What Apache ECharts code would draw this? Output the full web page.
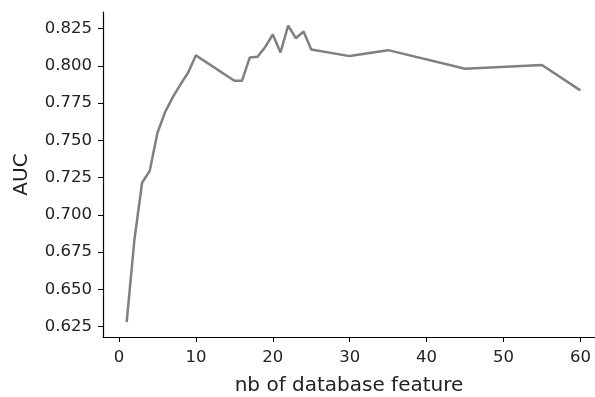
<!DOCTYPE html>
<html>
<head>
<meta charset="utf-8">
<script src="https://cdn.jsdelivr.net/npm/echarts@6/dist/echarts.min.js"></script>
<style>
  html, body { margin: 0; padding: 0; background: #fff; }
  #chart { width: 595px; height: 397px; }
</style>
</head>
<body>
<div id="chart"></div>
<script>
// nb of database feature
const featureCounts = [1, 2, 3, 4, 5, 6, 7, 8, 9, 10, 15, 16, 17, 18, 19, 20, 21, 22, 23, 24, 25, 30, 35, 45, 55, 60]
// AUC
const aucValues = [0.628, 0.683, 0.7215, 0.7295, 0.755, 0.769, 0.779, 0.7875, 0.7955, 0.807,
  0.790, 0.790, 0.8055, 0.806, 0.8125, 0.821, 0.809, 0.827, 0.8185, 0.823, 0.811,
  0.8065, 0.8105, 0.798, 0.8005, 0.7835]
const xTicks = [0, 10, 20, 30, 40, 50, 60]
const yTicks = [0.625, 0.650, 0.675, 0.700, 0.725, 0.750, 0.775, 0.800, 0.825]

const chart = echarts.init(document.getElementById('chart'), null, { renderer: 'canvas' })
const font = 'DejaVu Sans'
const axisLine = { show: true, onZero: false, lineStyle: { color: '#000', width: 1.2 } }

chart.setOption({
  animation: false,
  grid: { left: 103, top: 12, right: 0, bottom: 60, containLabel: false, outerBoundsMode: 'none' },
  xAxis: {
    type: 'value',
    min: -2.08,
    max: 61.9,
    name: 'nb of database feature',
    nameLocation: 'middle',
    nameGap: 39,
    nameTextStyle: { fontFamily: font, fontSize: 20, color: '#222' },
    axisLine: axisLine,
    axisTick: { show: true, length: 5, customValues: xTicks, lineStyle: { color: '#000' } },
    axisLabel: { customValues: xTicks, margin: 12, fontFamily: font, fontSize: 16.5, color: '#222' },
    splitLine: { show: false }
  },
  yAxis: {
    type: 'value',
    min: 0.618,
    max: 0.8361,
    name: 'AUC',
    nameLocation: 'middle',
    nameGap: 71,
    nameTextStyle: { fontFamily: font, fontSize: 20, color: '#222' },
    axisLine: axisLine,
    axisTick: { show: true, length: 5, customValues: yTicks, lineStyle: { color: '#000' } },
    axisLabel: {
      customValues: yTicks, margin: 11, fontFamily: font, fontSize: 16.5, color: '#222',
      formatter: v => v.toFixed(3)
    },
    splitLine: { show: false }
  },
  series: [{
    type: 'line',
    data: featureCounts.map((x, i) => [x, aucValues[i]]),
    showSymbol: false,
    lineStyle: { color: '#808080', width: 2.5 },
    itemStyle: { color: '#808080' }
  }]
})
</script>
</body>
</html>
